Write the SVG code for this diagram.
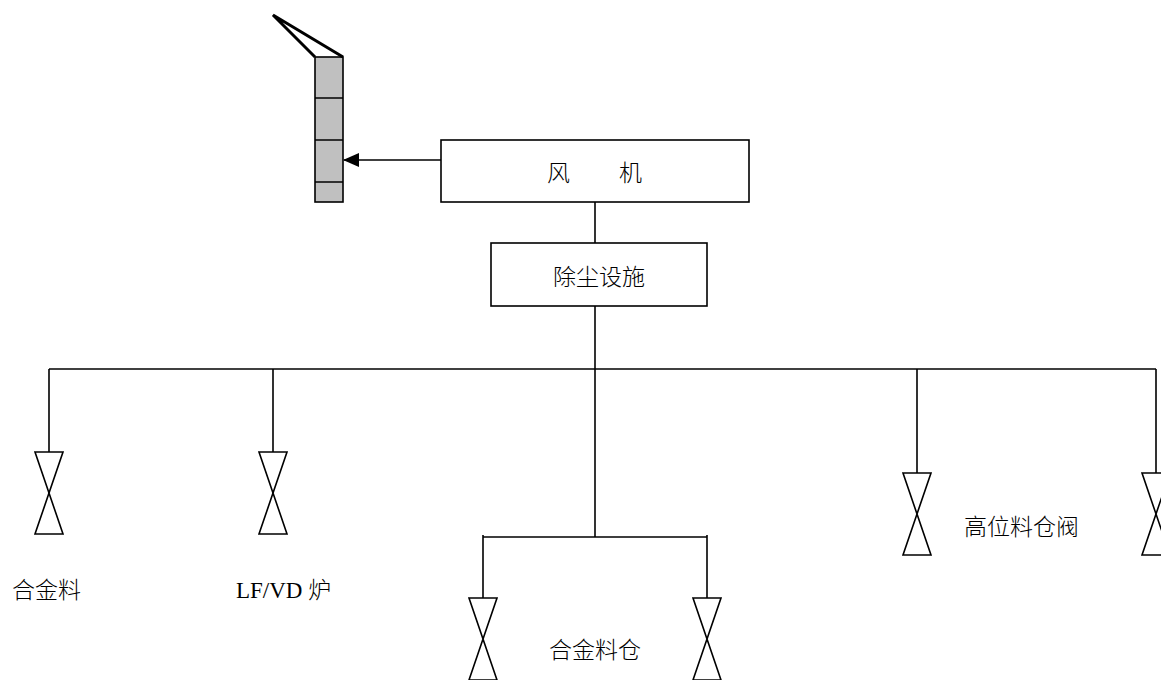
<svg xmlns="http://www.w3.org/2000/svg" width="1161" height="680" viewBox="0 0 1161 680">
<defs>
<style>
.ln{stroke:#000;stroke-width:1.6;fill:none}
.box{stroke:#000;stroke-width:1.6;fill:#fff}
.vlv{stroke:#000;stroke-width:1.6;fill:none;stroke-linejoin:miter}
.t{font-family:"Liberation Serif","Noto Sans CJK SC",serif;font-size:23px;font-weight:300;fill:#000}
.stk{stroke:#000;stroke-width:1.6;fill:#c0c0c0}
</style>
<g id="valve">
<path class="vlv" d="M-14,0 H14 L-14,82 H14 Z"/>
</g>
<marker id="arr" markerWidth="16" markerHeight="14" refX="15" refY="7" orient="auto" markerUnits="userSpaceOnUse">
<path d="M0,0 L16,7 L0,14 Z" fill="#000"/>
</marker>
</defs>
<rect width="1161" height="680" fill="#fff"/>
<g id="chimney">
<rect class="stk" x="315" y="57" width="28" height="145"/>
<path class="ln" d="M315,98 H343 M315,140 H343 M315,182 H343"/>
<path d="M315,57 L273,15 L343,57" stroke="#000" stroke-width="3" fill="none" stroke-linejoin="miter"/>
</g>
<g id="fan">
<rect class="box" x="441" y="140" width="308" height="62"/>
<text class="t" y="181"><tspan x="547">风</tspan><tspan x="619">机</tspan></text>
</g>
<g id="dust">
<rect class="box" x="491" y="243" width="216" height="63"/>
<text class="t" x="599" y="285" text-anchor="middle">除尘设施</text>
</g>
<g id="connectors">
<line class="ln" x1="441" y1="160" x2="344" y2="160" marker-end="url(#arr)"/>
<line class="ln" x1="595" y1="202" x2="595" y2="243"/>
<line class="ln" x1="595" y1="306" x2="595" y2="537"/>
<line class="ln" x1="49" y1="369" x2="1156" y2="369"/>
<path class="ln" d="M49,369 V452 M273,369 V452 M917,369 V473 M1156,369 V473"/>
<path class="ln" d="M483,537 H707 M483,535 V598 M707,535 V598"/>
</g>
<g id="v1"><use href="#valve" x="49" y="452"/></g>
<g id="v2"><use href="#valve" x="273" y="452"/></g>
<g id="v3"><use href="#valve" x="483" y="598"/></g>
<g id="v4"><use href="#valve" x="707" y="598"/></g>
<g id="v5"><use href="#valve" x="917" y="473"/></g>
<g id="v6"><use href="#valve" x="1156" y="473"/></g>
<g id="labels">
<text class="t" x="12" y="598">合金料</text>
<text class="t" x="236" y="598">LF/VD 炉</text>
<text class="t" x="549" y="658">合金料仓</text>
<text class="t" x="964" y="535">高位料仓阀</text>
</g>
</svg>
